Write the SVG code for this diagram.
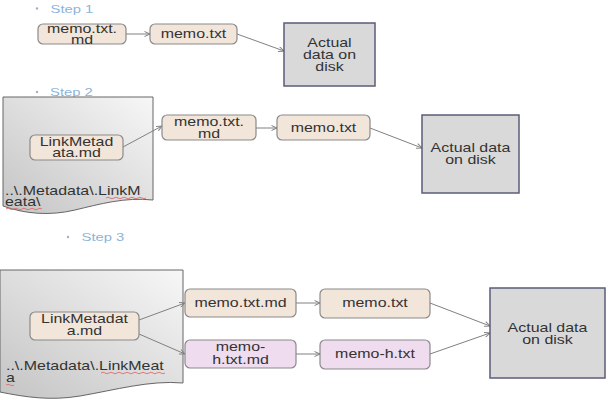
<svg xmlns="http://www.w3.org/2000/svg" width="609" height="400" viewBox="0 0 609 400">
<style>
.bg{fill:#ffffff}
.node{fill:#f2e5da;stroke:#8a8a8a;stroke-width:1.2}
.nodep{fill:#efdcef;stroke:#8a8a8a;stroke-width:1.2}
.disk{fill:#d9d9d9;stroke:#5a5e78;stroke-width:1.5}
.doc{fill:url(#docg);stroke:#666;stroke-width:1}
.t{font-family:"Liberation Sans",Arial,sans-serif;font-size:12px;fill:#333;text-anchor:middle}
.tl{font-family:"Liberation Sans",Arial,sans-serif;font-size:12px;fill:#333}
.step{font-family:"Liberation Sans",Arial,sans-serif;font-size:11px;fill:#8db4d9}
.bul{fill:#9bb3c9}
.conn{fill:none;stroke:#808080;stroke-width:1;marker-end:url(#arr)}
.sq{fill:none;stroke:#e06060;stroke-width:0.8}
</style>
<defs>
<linearGradient id="docg" x1="1" y1="0" x2="0" y2="1">
<stop offset="0" stop-color="#f7f7f7"/>
<stop offset="1" stop-color="#c4c4c4"/>
</linearGradient>
<marker id="arr" markerWidth="7" markerHeight="6" refX="6" refY="3" orient="auto" markerUnits="userSpaceOnUse">
<path d="M0.5,0.5 L6,3 L0.5,5.5" fill="none" stroke="#808080" stroke-width="1"/>
</marker>
</defs>
<rect class="bg" x="0" y="0" width="609" height="400"/>

<g id="step-labels">
<circle class="bul" cx="37" cy="8.5" r="1.2"/>
<text class="step" transform="translate(50.5,12.5) scale(1.35,1)">Step 1</text>
<circle class="bul" cx="37" cy="92" r="1.2"/>
<text class="step" transform="translate(50,96) scale(1.35,1)">Step 2</text>
<circle class="bul" cx="68" cy="237" r="1.2"/>
<text class="step" transform="translate(81.5,241) scale(1.35,1)">Step 3</text>
</g>

<g id="doc2">
<path class="doc" d="M3,97 L153,97 L153,200 C125,197 100,204 75,210 C50,216 25,214 3,206 Z"/>
<text class="tl" transform="translate(5,195) scale(1.33,1)">..\.Metadata\.LinkM</text>
<text class="tl" transform="translate(5,206) scale(1.33,1)">eata\</text>
<path class="sq" d="M106,198 q2,-1.5 4,0 t4,0 t4,0 t4,0 t4,0 t4,0 t4,0 t4,0 t4,0 t4,0"/>
<path class="sq" d="M6,209 q2,-1.5 4,0 t4,0 t4,0 t4,0 t4,0 t4,0 t4,0 t4,0 t4,0"/>
</g>

<g id="doc3">
<path class="doc" d="M0,270 L183,270 L183,383 C150,380 115,390 80,396 C50,401 25,397 0,392 Z"/>
<text class="tl" transform="translate(6,370) scale(1.33,1)">..\.Metadata\.LinkMeat</text>
<text class="tl" transform="translate(6,382) scale(1.33,1)">a</text>
<path class="sq" d="M101,373 q2,-1.5 4,0 t4,0 t4,0 t4,0 t4,0 t4,0 t4,0 t4,0 t4,0 t4,0 t4,0 t4,0 t4,0 t4,0 t4,0 t4,0"/>
<path class="sq" d="M6,385 q2,-1.5 4,0 t4,0"/>
</g>

<g id="connectors">
<path class="conn" d="M126,34 L150,34"/>
<path class="conn" d="M237,34 L284,51"/>
<path class="conn" d="M123,147 L162,126"/>
<path class="conn" d="M256,128 L277,128"/>
<path class="conn" d="M370,128 L422,148"/>
<path class="conn" d="M139,320 L185,303"/>
<path class="conn" d="M139,334 L185,354"/>
<path class="conn" d="M296,303 L320,303"/>
<path class="conn" d="M296,354 L320,354"/>
<path class="conn" d="M430,303 L490,326"/>
<path class="conn" d="M430,354 L490,333"/>
</g>

<g id="s1-memo-txt-md">
<rect class="node" x="38" y="24" width="88" height="20" rx="5"/>
<text class="t" transform="translate(82,32.5) scale(1.33,1)">memo.txt.</text>
<text class="t" transform="translate(82,43.5) scale(1.33,1)">md</text>
</g>
<g id="s1-memo-txt">
<rect class="node" x="150" y="24" width="87" height="20" rx="5"/>
<text class="t" transform="translate(193.5,37.5) scale(1.33,1)">memo.txt</text>
</g>
<g id="s1-disk">
<rect class="disk" x="284" y="23" width="91" height="63"/>
<text class="t" transform="translate(329.5,46.5) scale(1.33,1)">Actual</text>
<text class="t" transform="translate(329.5,58.5) scale(1.33,1)">data on</text>
<text class="t" transform="translate(329.5,70.5) scale(1.33,1)">disk</text>
</g>

<g id="s2-linkmetadata">
<rect class="node" x="30" y="135" width="93" height="25" rx="5"/>
<text class="t" transform="translate(76.5,145.5) scale(1.33,1)">LinkMetad</text>
<text class="t" transform="translate(76.5,157) scale(1.33,1)">ata.md</text>
</g>
<g id="s2-memo-txt-md">
<rect class="node" x="162" y="115" width="94" height="25" rx="5"/>
<text class="t" transform="translate(209,125.5) scale(1.33,1)">memo.txt.</text>
<text class="t" transform="translate(209,137.5) scale(1.33,1)">md</text>
</g>
<g id="s2-memo-txt">
<rect class="node" x="277" y="115" width="93" height="25" rx="5"/>
<text class="t" transform="translate(323.5,132) scale(1.33,1)">memo.txt</text>
</g>
<g id="s2-disk">
<rect class="disk" x="422" y="115" width="97" height="78"/>
<text class="t" transform="translate(470.5,152) scale(1.33,1)">Actual data</text>
<text class="t" transform="translate(470.5,163.5) scale(1.33,1)">on disk</text>
</g>

<g id="s3-linkmetadata">
<rect class="node" x="30" y="312" width="109" height="28" rx="5"/>
<text class="t" transform="translate(84.5,323) scale(1.33,1)">LinkMetadat</text>
<text class="t" transform="translate(84.5,334.5) scale(1.33,1)">a.md</text>
</g>
<g id="s3-memo-txt-md">
<rect class="node" x="185" y="289" width="111" height="28" rx="5"/>
<text class="t" transform="translate(240.5,306.5) scale(1.33,1)">memo.txt.md</text>
</g>
<g id="s3-memo-h-txt-md">
<rect class="nodep" x="185" y="340" width="111" height="28" rx="5"/>
<text class="t" transform="translate(240.5,351) scale(1.33,1)">memo-</text>
<text class="t" transform="translate(240.5,363.5) scale(1.33,1)">h.txt.md</text>
</g>
<g id="s3-memo-txt">
<rect class="node" x="320" y="289" width="110" height="29" rx="5"/>
<text class="t" transform="translate(375,306.5) scale(1.33,1)">memo.txt</text>
</g>
<g id="s3-memo-h-txt">
<rect class="nodep" x="320" y="340" width="110" height="29" rx="5"/>
<text class="t" transform="translate(375,357.5) scale(1.33,1)">memo-h.txt</text>
</g>
<g id="s3-disk">
<rect class="disk" x="490" y="288" width="115" height="90"/>
<text class="t" transform="translate(547.5,332) scale(1.33,1)">Actual data</text>
<text class="t" transform="translate(547.5,343.5) scale(1.33,1)">on disk</text>
</g>
</svg>
